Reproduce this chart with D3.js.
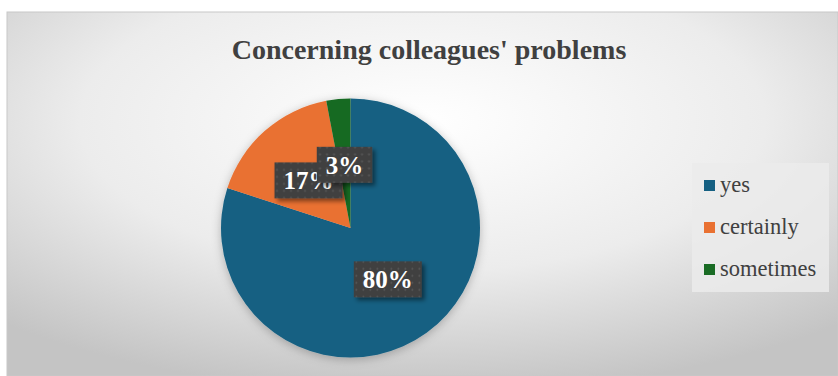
<!DOCTYPE html>
<html>
<head>
<meta charset="utf-8">
<script src="https://cdn.jsdelivr.net/npm/d3@7"></script>
<style>
  html, body { margin: 0; padding: 0; background: #fff; }
  svg { display: block; }
  .serif { font-family: "Liberation Serif", Tinos, "Times New Roman", Times, "Nimbus Roman", "Nimbus Roman No9 L", FreeSerif, "DejaVu Serif", "Noto Serif", "Noto Serif CJK SC", Georgia, serif; }
</style>
</head>
<body>
<svg id="chart" width="838" height="376"></svg>
<script>
// Survey answers and their shares (%)
const categories = ["yes", "certainly", "sometimes"];
const values = [80, 17, 3];
const labels = ["80%", "17%", "3%"];
const colors = ["#156082", "#E97132", "#196B24"];
const title = "Concerning colleagues' problems";

const W = 838, H = 376;
const svg = d3.select("#chart");
const defs = svg.append("defs");

// Chart area background: soft radial gradient, light centre fading to grey
const bg = defs.append("radialGradient").attr("id", "bgGrad")
  .attr("cx", "50%").attr("cy", "30%").attr("r", "75%")
  .attr("fx", "50%").attr("fy", "30%");
bg.append("stop").attr("offset", "0%").attr("stop-color", "#ffffff");
bg.append("stop").attr("offset", "55%").attr("stop-color", "#ececec");
bg.append("stop").attr("offset", "100%").attr("stop-color", "#c4c4c4");

// Shadows for the pie and the label boxes
const pieShadow = defs.append("filter").attr("id", "pieShadow")
  .attr("x", "-20%").attr("y", "-20%").attr("width", "140%").attr("height", "140%");
pieShadow.append("feDropShadow").attr("dx", 0).attr("dy", 2)
  .attr("stdDeviation", 5).attr("flood-color", "#000").attr("flood-opacity", 0.25);

const boxShadow = defs.append("filter").attr("id", "boxShadow")
  .attr("x", "-30%").attr("y", "-30%").attr("width", "160%").attr("height", "160%");
boxShadow.append("feDropShadow").attr("dx", 3).attr("dy", 3)
  .attr("stdDeviation", 2).attr("flood-color", "#000").attr("flood-opacity", 0.45);

// Dotted fill for the label boxes
const pat = defs.append("pattern").attr("id", "dots")
  .attr("width", 7).attr("height", 7).attr("patternUnits", "userSpaceOnUse");
pat.append("rect").attr("width", 7).attr("height", 7).attr("fill", "#404040");
pat.append("circle").attr("cx", 3.5).attr("cy", 3.5).attr("r", 0.9).attr("fill", "#5c5c5c");

const area = { x: 7, y: 12, w: W - 7, h: H - 12 };
svg.append("rect")
  .attr("x", area.x).attr("y", area.y).attr("width", area.w).attr("height", area.h)
  .attr("fill", "url(#bgGrad)")
  .attr("stroke", "#c8c8c8").attr("stroke-width", 1);

// Title
svg.append("text")
  .attr("class", "serif")
  .attr("x", 429).attr("y", 59)
  .attr("text-anchor", "middle")
  .attr("font-weight", "bold").attr("font-size", 28)
  .attr("fill", "#404040")
  .text(title);

// Pie
const cx = 350.5, cy = 228, r = 129.5;
const pie = d3.pie().sort(null).value(d => d)(values);
const arc = d3.arc().innerRadius(0).outerRadius(r);
const labelArc = d3.arc().innerRadius(r * 0.49).outerRadius(r * 0.49);

const g = svg.append("g").attr("transform", `translate(${cx},${cy})`);
g.append("g").attr("filter", "url(#pieShadow)")
  .selectAll("path").data(pie).join("path")
  .attr("d", arc)
  .attr("fill", (d, i) => colors[i]);

// Data labels: dark dotted boxes with white bold text
const lab = g.append("g");
pie.forEach((d, i) => {
  const [x, y] = labelArc.centroid(d);
  const lg = lab.append("g").attr("transform", `translate(${x},${y})`);
  const rect = lg.append("rect").attr("fill", "url(#dots)").attr("filter", "url(#boxShadow)");
  const t = lg.append("text")
    .attr("class", "serif")
    .attr("text-anchor", "middle").attr("dy", "0.36em")
    .attr("font-weight", "bold").attr("font-size", 25)
    .attr("fill", "#ffffff")
    .text(labels[i]);
  const tw = t.node().getComputedTextLength();
  const bw = tw + 18, bh = 36;
  rect.attr("x", -bw / 2).attr("y", -bh / 2)
    .attr("width", bw).attr("height", bh);
});

// Legend
const legend = svg.append("g");
legend.append("rect")
  .attr("x", 692).attr("y", 163).attr("width", 137).attr("height", 129)
  .attr("fill", "#ebebeb").attr("opacity", 0.85);
const ly = d3.scalePoint().domain(categories).range([192, 276]);
categories.forEach((c, i) => {
  const y = ly(c);
  legend.append("rect")
    .attr("x", 704).attr("y", y - 12).attr("width", 11).attr("height", 11)
    .attr("fill", colors[i]);
  legend.append("text")
    .attr("class", "serif")
    .attr("x", 720).attr("y", y)
    .attr("font-size", 22.5).attr("fill", "#404040")
    .text(c);
});
</script>
</body>
</html>
